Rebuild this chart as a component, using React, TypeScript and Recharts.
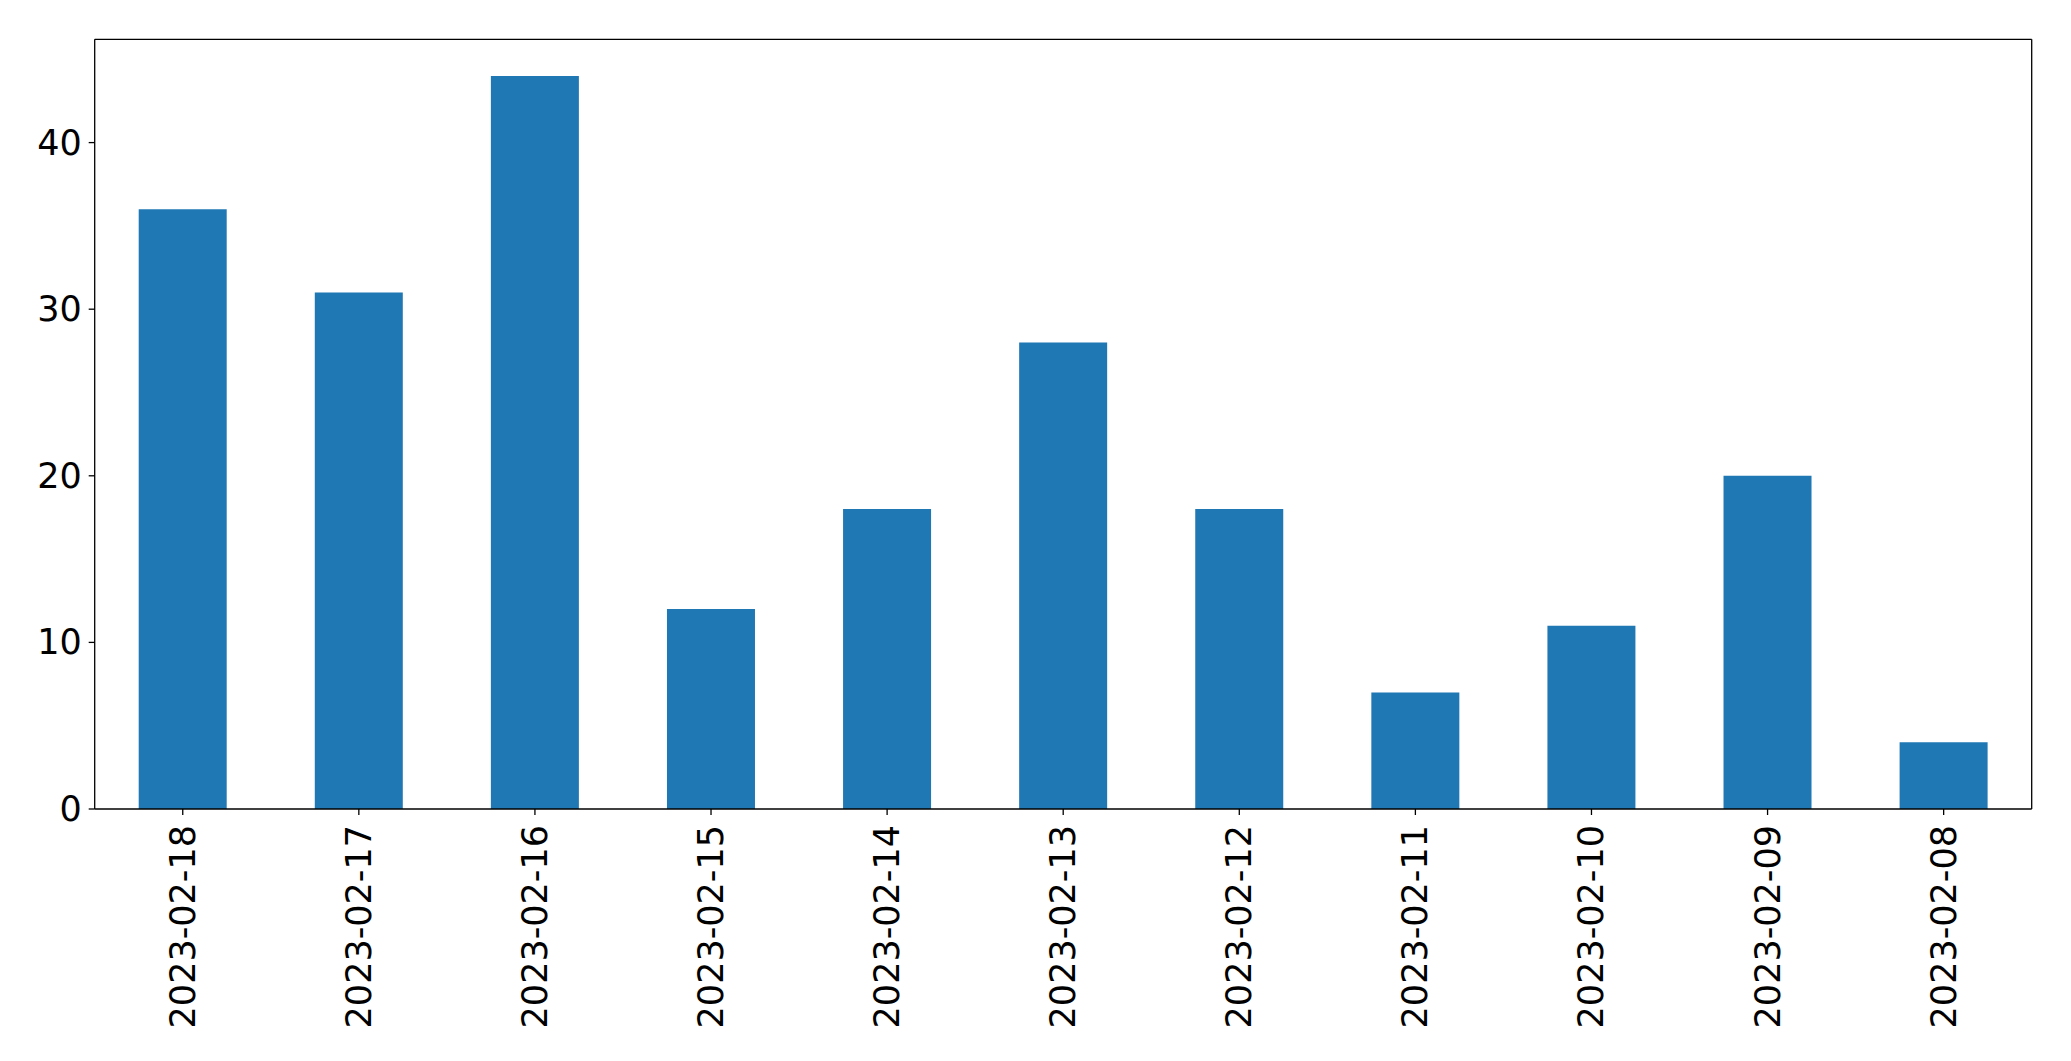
import { BarChart, Bar, XAxis, YAxis } from 'recharts'

// data
const dates = [
  '2023-02-18', '2023-02-17', '2023-02-16', '2023-02-15', '2023-02-14', '2023-02-13',
  '2023-02-12', '2023-02-11', '2023-02-10', '2023-02-09', '2023-02-08',
]
const counts = [36, 31, 44, 12, 18, 28, 18, 7, 11, 20, 4]
const yTicks = [0, 10, 20, 30, 40]

const rows = dates.map((d, i) => ({ date: d, count: counts[i] }))

const FONT = 'DejaVu Sans'
const FS = 35

// rotated date labels under the bars
function DateTick({ x, y, payload }: { x?: number; y?: number; payload?: { value: string } }) {
  return (
    <text
      transform={`translate(${x},${y}) rotate(-90)`}
      textAnchor="end"
      dominantBaseline="central"
      fontFamily={FONT}
      fontSize={FS}
      fill="#000"
    >
      {payload?.value}
    </text>
  )
}

function CountTick({ x, y, payload }: { x?: number; y?: number; payload?: { value: number } }) {
  return (
    <text x={x} y={y} textAnchor="end" dominantBaseline="central" fontFamily={FONT} fontSize={FS} fill="#000">
      {payload?.value}
    </text>
  )
}

export default function App() {
  return (
    <div style={{ position: 'absolute', left: 0, top: 0, background: '#fff' }}>
      <BarChart
        width={2071}
        height={1061}
        data={rows}
        margin={{ top: 38.3, right: 38.3, bottom: 12, left: 14.7 }}
      >
        <XAxis
          dataKey="date"
          interval={0}
          height={240}
          tickSize={6}
          tickMargin={10}
          tick={<DateTick />}
          axisLine={{ stroke: '#000', strokeWidth: 1.3 }}
          tickLine={{ stroke: '#000', strokeWidth: 1.3 }}
        />
        <XAxis
          xAxisId="top"
          dataKey="date"
          orientation="top"
          height={1}
          tick={false}
          tickLine={false}
          axisLine={{ stroke: '#000', strokeWidth: 1.3 }}
        />
        <YAxis
          width={80}
          domain={[0, 46.2]}
          ticks={yTicks}
          tickSize={6}
          tickMargin={7}
          tick={<CountTick />}
          axisLine={{ stroke: '#000', strokeWidth: 1.3 }}
          tickLine={{ stroke: '#000', strokeWidth: 1.3 }}
        />
        <YAxis
          yAxisId="right"
          orientation="right"
          width={1}
          domain={[0, 46.2]}
          tick={false}
          tickLine={false}
          axisLine={{ stroke: '#000', strokeWidth: 1.3 }}
        />
        <Bar dataKey="count" fill="#1f77b4" barSize={88} isAnimationActive={false} />
      </BarChart>
    </div>
  )
}
